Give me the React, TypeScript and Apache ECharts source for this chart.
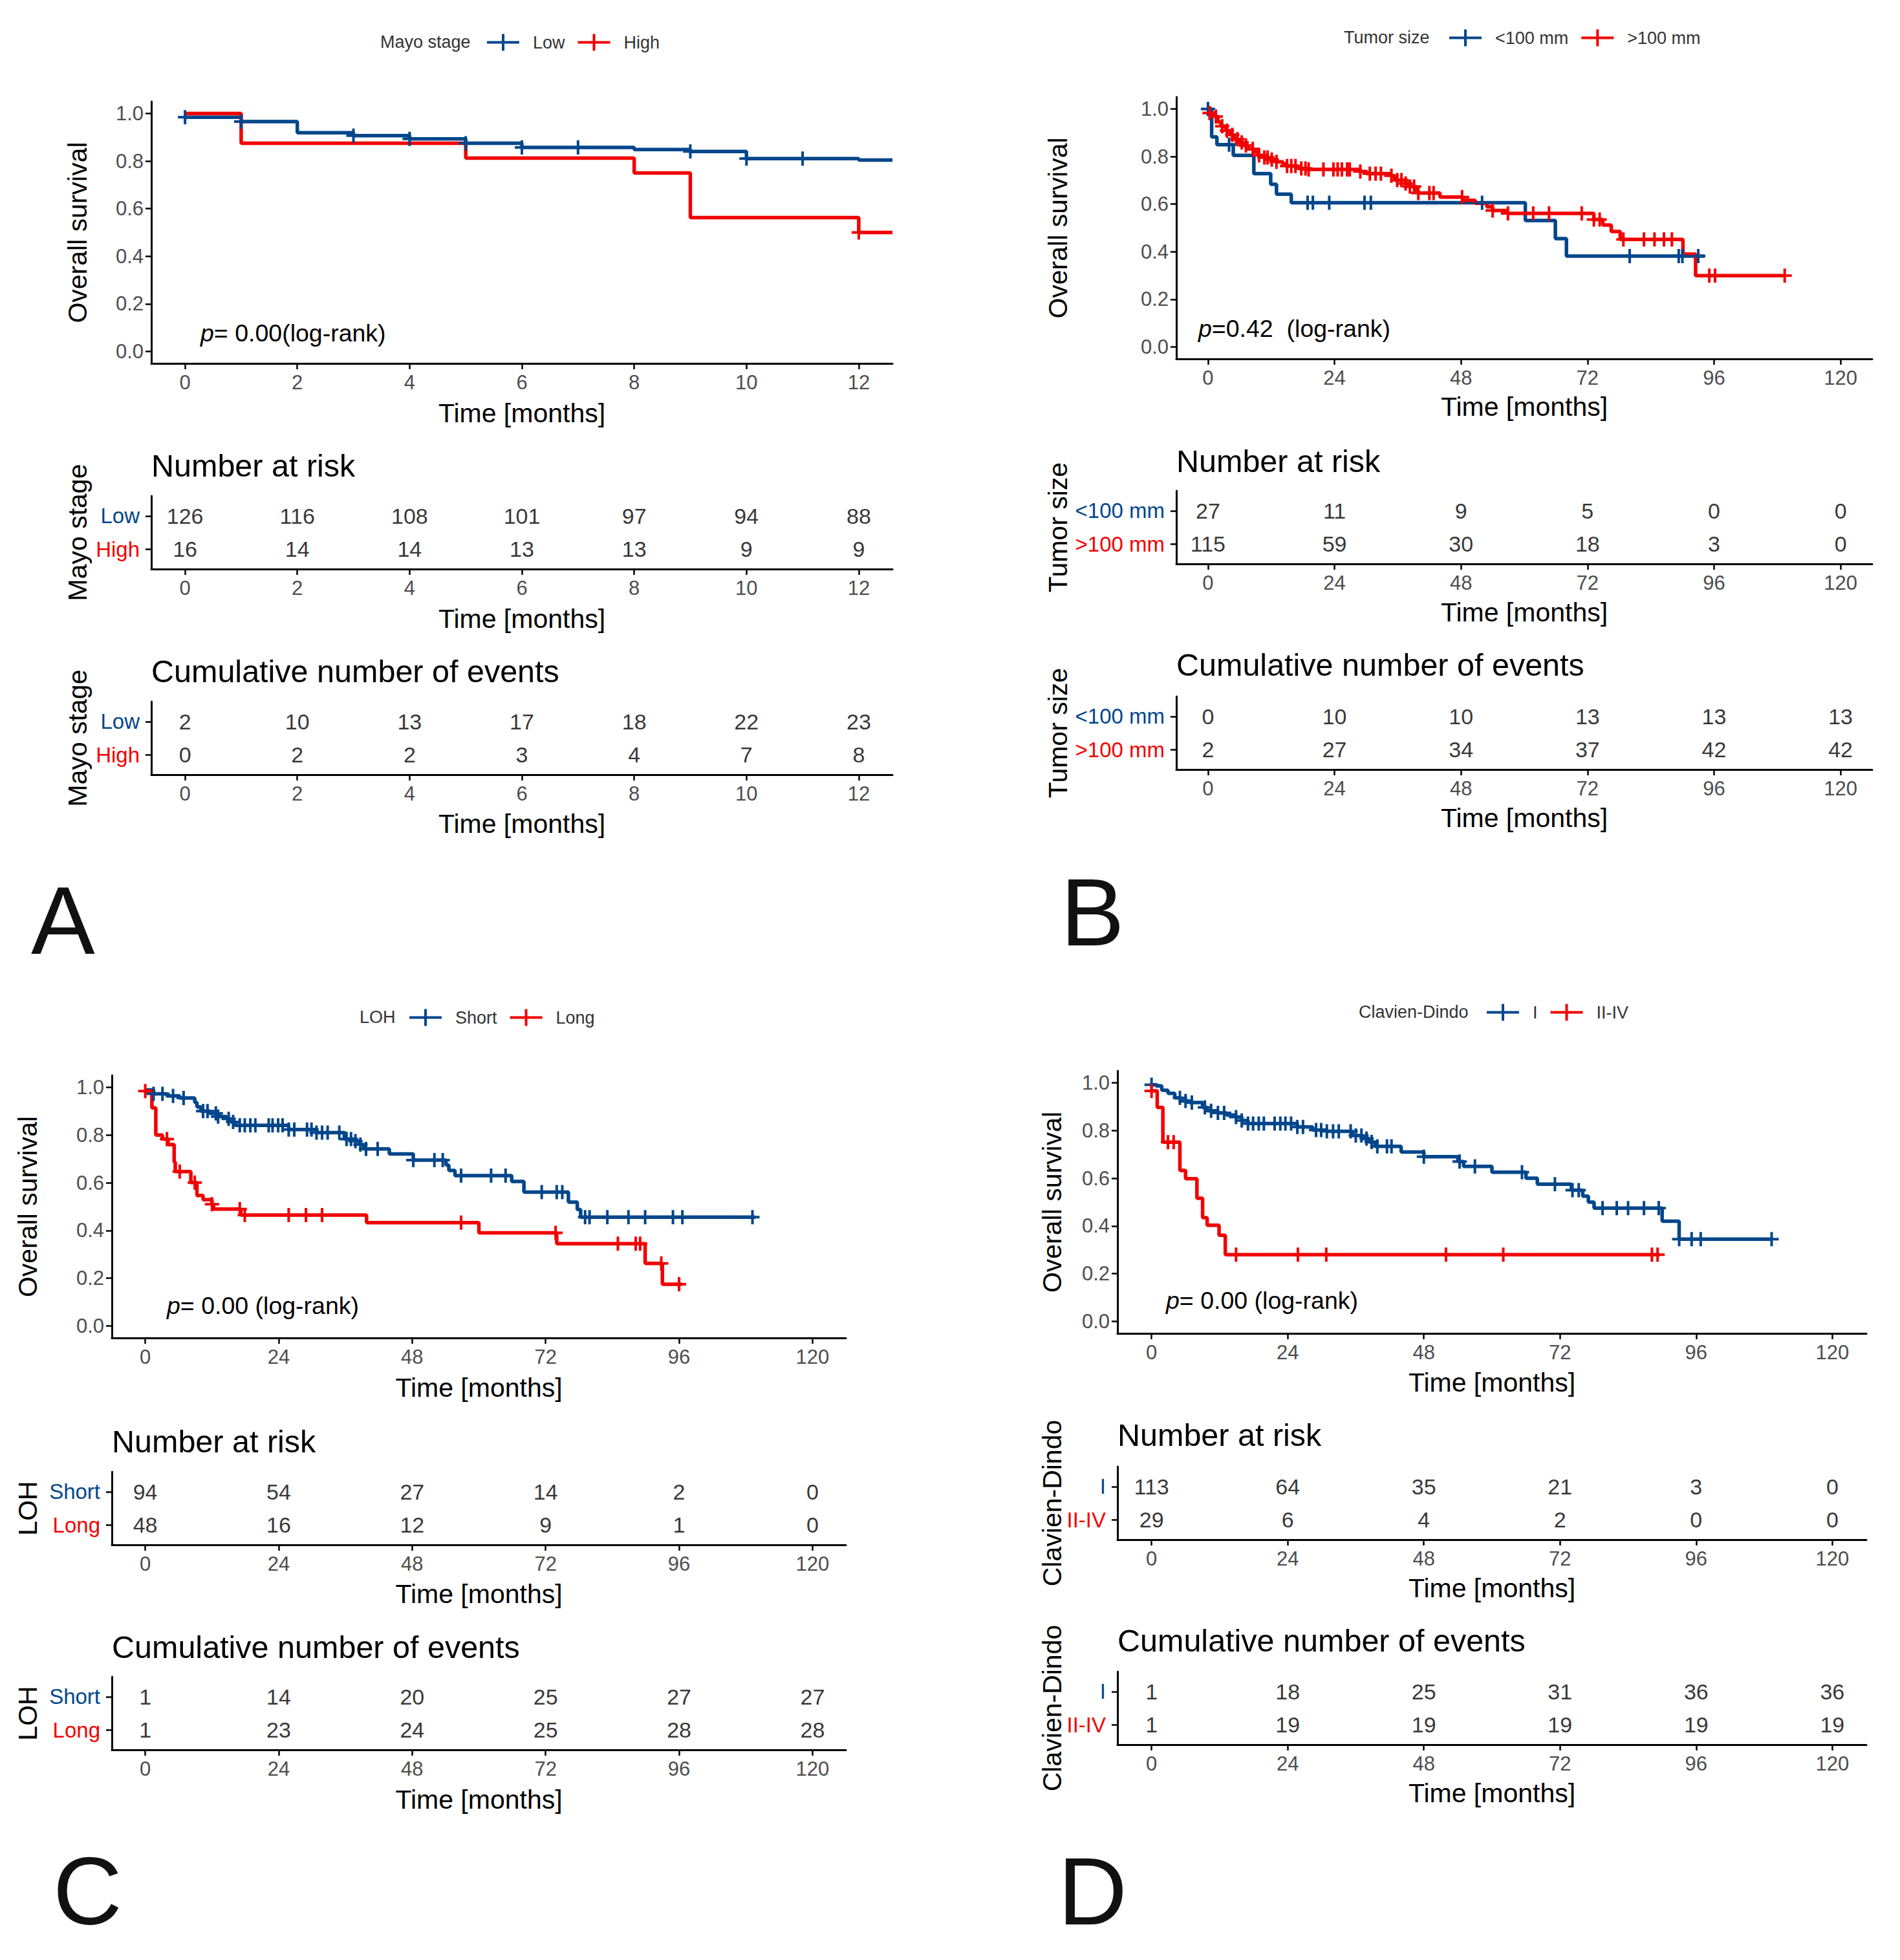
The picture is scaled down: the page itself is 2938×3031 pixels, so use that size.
import React, { useEffect, useRef } from "react";
import * as echarts from "echarts";

const BLUE = "#00468B";
const RED = "#F20000";
const FONT = "'Liberation Sans', Arial, Helvetica, sans-serif";
const GREY = "#4D4D4D";

// ---------------- Panel A : Mayo stage ----------------
const groupsA = ["Low", "High"];
const timesA = [0, 2, 4, 6, 8, 10, 12];
const riskA_low = [126, 116, 108, 101, 97, 94, 88];
const riskA_high = [16, 14, 14, 13, 13, 9, 9];
const cumA_low = [2, 10, 13, 17, 18, 22, 23];
const cumA_high = [0, 2, 2, 3, 4, 7, 8];
const kmA_low_t = [0, 1, 2, 3, 4, 5, 6, 8, 9, 10, 12, 12.6];
const kmA_low_s = [0.984, 0.966, 0.919, 0.907, 0.893, 0.875, 0.857, 0.848, 0.84, 0.81, 0.804, 0.804];
const censA_low = [0, 1, 3, 4, 5, 6, 7, 9, 10, 11];
const kmA_high_t = [0, 1, 5, 8, 9, 12, 12.6];
const kmA_high_s = [1, 0.875, 0.8125, 0.75, 0.5625, 0.5, 0.5];
const censA_high = [12];

// ---------------- Panel B : Tumor size ----------------
const groupsB = ["<100 mm", ">100 mm"];
const timesB = [0, 24, 48, 72, 96, 120];
const riskB_small = [27, 11, 9, 5, 0, 0];
const riskB_large = [115, 59, 30, 18, 3, 0];
const cumB_small = [0, 10, 10, 13, 13, 13];
const cumB_large = [2, 27, 34, 37, 42, 42];
const kmB_small_t = [0, 0.7, 1.7, 4.8, 8.7, 11.9, 13, 15.8, 60.2, 65.9, 68, 94.2];
const kmB_small_s = [1, 0.882, 0.85, 0.805, 0.728, 0.683, 0.642, 0.606, 0.531, 0.455, 0.382, 0.382];
const censB_small = [0, 4, 18.9, 19.9, 23, 29.7, 30.9, 52, 80, 89.3, 90, 93];
const kmB_large_t = [0, 1.3, 1.9, 2.5, 3.4, 4.2, 5, 5.8, 6.6, 7.6, 8.7, 9.5, 10.5, 11.7, 13, 14.2, 15, 17.1, 18.7, 28.9, 30.1, 34.6, 35.4, 37.5, 38.3, 39.5, 39.9, 44, 48.4, 50.7, 52.9, 54, 56.8, 73.2, 74.9, 76.5, 78.2, 90.1, 92.5, 109.4];
const kmB_large_s = [0.983, 0.968, 0.945, 0.927, 0.909, 0.891, 0.873, 0.859, 0.846, 0.832, 0.819, 0.805, 0.796, 0.787, 0.778, 0.769, 0.76, 0.75, 0.746, 0.737, 0.728, 0.719, 0.701, 0.687, 0.674, 0.656, 0.647, 0.63, 0.616, 0.604, 0.589, 0.573, 0.561, 0.535, 0.512, 0.485, 0.452, 0.39, 0.3, 0.3];
const censB_large = [0.3, 1.5, 2.7, 3.6, 4.6, 5.6, 6.4, 7.2, 8.5, 9.7, 10.7, 11.3, 12.1, 13, 15, 15.8, 16.6, 17.7, 18.5, 19.1, 21.9, 23.8, 24.6, 25.4, 26.4, 26.9, 28.9, 30.7, 31.8, 32.8, 34.8, 35.9, 36.7, 37.5, 38.3, 39.1, 39.9, 42, 42.8, 48.2, 54, 56.9, 61.7, 64.7, 70.9, 73.2, 74.3, 78.8, 82.7, 84.7, 86.5, 88, 95.1, 96.2, 109.4];

// ---------------- Panel C : LOH ----------------
const groupsC = ["Short", "Long"];
const timesC = [0, 24, 48, 72, 96, 120];
const riskC_short = [94, 54, 27, 14, 2, 0];
const riskC_long = [48, 16, 12, 9, 1, 0];
const cumC_short = [1, 14, 20, 25, 27, 27];
const cumC_long = [1, 23, 24, 25, 28, 28];
const kmC_short_t = [0, 1.5, 3.9, 6.2, 8.9, 9.3, 10, 11.6, 13.1, 14.6, 15.4, 16.2, 25.8, 30.8, 35.8, 37.8, 38.5, 39.3, 43.9, 48.2, 54.1, 54.6, 55.7, 65.9, 68.1, 76.1, 77.7, 78.3, 109.7];
const kmC_short_s = [0.989, 0.973, 0.964, 0.955, 0.937, 0.918, 0.9, 0.891, 0.877, 0.868, 0.855, 0.841, 0.823, 0.81, 0.783, 0.774, 0.76, 0.742, 0.721, 0.695, 0.674, 0.652, 0.63, 0.606, 0.561, 0.519, 0.488, 0.456, 0.456];
const censC_short = [1.5, 3.1, 5, 6.9, 10.4, 11.2, 12.7, 13.1, 15, 15.8, 17, 17.9, 18.9, 19.8, 22.2, 22.9, 23.9, 24.7, 25.8, 26.8, 29.1, 29.9, 30.8, 31.8, 32.8, 34.9, 36.2, 37, 37.8, 38.7, 39.7, 41.8, 48.2, 52, 53.5, 56.8, 62.2, 64.8, 71.3, 74, 75, 79.1, 79.9, 83.1, 86.9, 89.9, 94.9, 96.6, 109.2];
const kmC_long_t = [0, 1.2, 1.9, 3.1, 4.1, 5.2, 5.4, 8.2, 9.3, 10.4, 12, 12.3, 17.2, 39.8, 60, 74, 89.9, 93, 96.6];
const kmC_long_s = [0.984, 0.914, 0.8, 0.783, 0.76, 0.687, 0.647, 0.601, 0.547, 0.529, 0.51, 0.49, 0.465, 0.433, 0.39, 0.345, 0.262, 0.175, 0.175];
const censC_long = [0, 3.9, 6.2, 8.9, 12, 17, 17.9, 25.8, 28.9, 31.8, 56.8, 73.8, 85, 88.2, 89, 92.8, 96];

// ---------------- Panel D : Clavien-Dindo ----------------
const groupsD = ["I", "II-IV"];
const timesD = [0, 24, 48, 72, 96, 120];
const riskD_I = [113, 64, 35, 21, 3, 0];
const riskD_II = [29, 6, 4, 2, 0, 0];
const cumD_I = [1, 18, 25, 31, 36, 36];
const cumD_II = [1, 19, 19, 19, 19, 19];
const kmD_I_t = [0, 0.8, 1.8, 2.9, 4.1, 5.2, 6.7, 9, 9.8, 11.7, 13.2, 14.9, 15.9, 17, 25.7, 28.4, 30.7, 35.4, 37.1, 38.3, 39.4, 44, 48, 54, 55, 60, 66, 68, 74, 76, 77, 78, 90, 93, 109.3];
const kmD_I_s = [0.992, 0.987, 0.969, 0.956, 0.937, 0.924, 0.917, 0.897, 0.883, 0.874, 0.865, 0.856, 0.842, 0.829, 0.815, 0.802, 0.797, 0.779, 0.766, 0.752, 0.734, 0.71, 0.69, 0.67, 0.65, 0.625, 0.6, 0.575, 0.55, 0.525, 0.5, 0.475, 0.42, 0.345, 0.345];
const censD_I = [0, 5, 6, 7.1, 9.4, 10.5, 11.7, 12.8, 14.9, 15.9, 17, 17.9, 18.9, 19.8, 21.7, 22.7, 23.6, 24.6, 25.7, 26.7, 29, 29.9, 30.9, 32, 33, 35.1, 36, 37, 37.9, 38.8, 39.8, 41.5, 42.3, 48, 54.3, 57, 65.3, 71.1, 74.2, 75.3, 79.5, 82, 84, 86.8, 89.4, 93, 95.2, 96.8, 109.3];
const kmD_II_t = [0, 1, 2, 5, 6, 8, 9, 9.8, 11.9, 13, 89.6];
const kmD_II_s = [0.966, 0.897, 0.751, 0.633, 0.598, 0.516, 0.435, 0.403, 0.361, 0.28, 0.28];
const censD_II = [0, 2.9, 3.9, 14.9, 25.8, 30.8, 51.9, 62, 88.2, 89.2];

const kmYTicks = [0, 0.2, 0.4, 0.6, 0.8, 1.0];
const ticksMonths12 = [0, 2, 4, 6, 8, 10, 12];
const ticksMonths120 = [0, 24, 48, 72, 96, 120];

const panels = [
  {
    title: "Mayo stage", groups: groupsA, times: timesA, xTicks: ticksMonths12, xMin: -0.6, xMax: 12.6,
    risk: [riskA_low, riskA_high], cum: [cumA_low, cumA_high],
    km: [[kmA_low_t, kmA_low_s, censA_low], [kmA_high_t, kmA_high_s, censA_high]],
    pText: "{i|p}= 0.00(log-rank)", letter: "A",
    L: { kmL: 234, kmT: 157, kmW: 1146, kmH: 405, riskT: 767, cumT: 1085, ylabX: 120, legTitleX: 588, legY: 65, legX: 753, pX: 310, pY: 515, riskTitleY: 720, cumTitleY: 1038, letterX: 48, letterY: 1423, kmXT: 639, riskXT: 957, cumXT: 1274 },
  },
  {
    title: "Tumor size", groups: groupsB, times: timesB, xTicks: ticksMonths120, xMin: -6, xMax: 126,
    risk: [riskB_small, riskB_large], cum: [cumB_small, cumB_large],
    km: [[kmB_small_t, kmB_small_s, censB_small], [kmB_large_t, kmB_large_s, censB_large]],
    pText: "{i|p}=0.42  (log-rank)", letter: "B",
    L: { kmL: 1819, kmT: 150, kmW: 1076, kmH: 405, riskT: 759, cumT: 1077, ylabX: 1636, legTitleX: 2078, legY: 58, legX: 2241, pX: 1853, pY: 508, riskTitleY: 713, cumTitleY: 1028, letterX: 1640, letterY: 1410, kmXT: 629, riskXT: 947, cumXT: 1265 },
  },
  {
    title: "LOH", groups: groupsC, times: timesC, xTicks: ticksMonths120, xMin: -6, xMax: 126,
    risk: [riskC_short, riskC_long], cum: [cumC_short, cumC_long],
    km: [[kmC_short_t, kmC_short_s, censC_short], [kmC_long_t, kmC_long_s, censC_long]],
    pText: "{i|p}= 0.00 (log-rank)", letter: "C",
    L: { kmL: 173, kmT: 1663, kmW: 1135, kmH: 406, riskT: 2276, cumT: 2593, ylabX: 43, legTitleX: 556, legY: 1573, legX: 633, pX: 258, pY: 2019, riskTitleY: 2229, cumTitleY: 2547, letterX: 82, letterY: 2924, kmXT: 2146, riskXT: 2465, cumXT: 2783 },
  },
  {
    title: "Clavien-Dindo", groups: groupsD, times: timesD, xTicks: ticksMonths120, xMin: -6, xMax: 126,
    risk: [riskD_I, riskD_II], cum: [cumD_I, cumD_II],
    km: [[kmD_I_t, kmD_I_s, censD_I], [kmD_II_t, kmD_II_s, censD_II]],
    pText: "{i|p}= 0.00 (log-rank)", letter: "D",
    L: { kmL: 1728, kmT: 1656, kmW: 1158, kmH: 406, riskT: 2268, cumT: 2585, ylabX: 1627, legTitleX: 2101, legY: 1565, legX: 2299, pX: 1803, pY: 2011, riskTitleY: 2219, cumTitleY: 2537, letterX: 1636, letterY: 2924, kmXT: 2138, riskXT: 2456, cumXT: 2773 },
  },
];

const TAB_H = 113;
const COLORS = [BLUE, RED];
const plusIcon = "path://M0,11H50V15H0Z M23,0H27V26H23Z";
const censorSym = "path://M-2,-11H2V11H-2Z M-11,-2H11V2H-11Z";

function survAt(ts: number[], ss: number[], t: number) {
  let v = ss[0];
  for (let i = 0; i < ts.length; i++) {
    if (ts[i] <= t + 1e-9) v = ss[i];
    else break;
  }
  return v;
}

function txt(x: number, y: number, text: string, fontSize: number, opts: any = {}) {
  return {
    type: "text",
    x,
    y,
    rotation: opts.rot || 0,
    silent: true,
    style: {
      text,
      fontSize,
      fontFamily: FONT,
      fill: opts.fill || "#000",
      align: opts.align || "left",
      verticalAlign: "middle",
      textAlign: opts.align || "left",
      textVerticalAlign: "middle",
      rich: opts.rich,
    },
  };
}

function buildOption() {
  const grid: any[] = [];
  const xAxis: any[] = [];
  const yAxis: any[] = [];
  const series: any[] = [];
  const graphic: any[] = [];
  const legend: any[] = [];

  const axisLine = { show: true, onZero: false, lineStyle: { color: "#000", width: 3 } };
  const tickStyle = { color: "#000", width: 2.5 };

  panels.forEach((p, pi) => {
    const L = p.L;
    const tops = [L.kmT, L.riskT, L.cumT];
    const heights = [L.kmH, TAB_H, TAB_H];
    for (let k = 0; k < 3; k++) {
      const gi = pi * 3 + k;
      grid.push({ left: L.kmL, top: tops[k], width: L.kmW, height: heights[k], containLabel: false, outerBoundsMode: "none" });
      xAxis.push({
        type: "value", gridIndex: gi, min: p.xMin, max: p.xMax,
        axisLine, splitLine: { show: false },
        axisTick: { show: true, length: 9, lineStyle: tickStyle, customValues: p.xTicks },
        axisLabel: { customValues: p.xTicks, color: GREY, fontSize: 31, fontFamily: FONT, margin: 14 },
      });
      if (k === 0) {
        yAxis.push({
          type: "value", gridIndex: gi, min: -0.05, max: 1.05,
          axisLine, splitLine: { show: false },
          axisTick: { show: true, length: 9, lineStyle: tickStyle, customValues: kmYTicks },
          axisLabel: { customValues: kmYTicks, color: GREY, fontSize: 31, fontFamily: FONT, margin: 12, formatter: (v: number) => v.toFixed(1) },
        });
      } else {
        yAxis.push({
          type: "value", gridIndex: gi, min: 0.4, max: 2.6,
          axisLine, splitLine: { show: false },
          axisTick: { show: true, length: 9, lineStyle: tickStyle, customValues: [1, 2] },
          axisLabel: {
            customValues: [1, 2], margin: 18, fontSize: 33, fontFamily: FONT,
            formatter: (v: number) => (v > 1.5 ? `{g0|${p.groups[0]}}` : `{g1|${p.groups[1]}}`),
            rich: {
              g0: { color: BLUE, fontSize: 33, fontFamily: FONT },
              g1: { color: RED, fontSize: 33, fontFamily: FONT },
            },
          },
        });
      }
    }
    const kmIdx = pi * 3;
    // KM lines
    p.km.forEach((g, gi) => {
      const [ts, ss] = g as number[][];
      series.push({
        type: "line", name: p.groups[gi], xAxisIndex: kmIdx, yAxisIndex: kmIdx,
        step: "end", symbol: "none", showSymbol: false, clip: true, z: 2 + gi,
        data: ts.map((t, i) => [t, ss[i]]),
        lineStyle: { color: COLORS[gi], width: 5.5 }, itemStyle: { color: COLORS[gi] },
      });
    });
    // Censor marks
    p.km.forEach((g, gi) => {
      const [ts, ss, cs] = g as number[][];
      series.push({
        type: "scatter", name: p.groups[gi], xAxisIndex: kmIdx, yAxisIndex: kmIdx,
        symbol: censorSym, symbolSize: 22, silent: true, z: 5 + gi,
        data: cs.map((t) => [t, survAt(ts, ss, t)]),
        itemStyle: { color: COLORS[gi], opacity: 1 },
      });
    });
    // Tables
    const tables = [p.risk, p.cum];
    tables.forEach((tab, ti) => {
      const idx = pi * 3 + 1 + ti;
      const data: any[] = [];
      tab.forEach((row, ri) => {
        row.forEach((n, i) => data.push([p.times[i], ri === 0 ? 2 : 1, n]));
      });
      series.push({
        type: "scatter", xAxisIndex: idx, yAxisIndex: idx, symbolSize: 1, silent: true,
        itemStyle: { color: "rgba(0,0,0,0)" },
        data,
        label: { show: true, position: "inside", formatter: (q: any) => String(q.value[2]), fontSize: 34, color: "#000", fontFamily: FONT },
      });
    });

    // Legend
    legend.push({
      left: L.legX, top: L.legY - 13, orient: "horizontal", itemWidth: 50, itemHeight: 26, itemGap: 20, padding: 0,
      selectedMode: false,
      data: p.groups.map((n) => ({ name: n, icon: plusIcon })),
      textStyle: { fontSize: 27, color: "#333", fontFamily: FONT, padding: [0, 0, 0, 16] },
    });

    // Texts
    const cx = L.kmL + L.kmW / 2;
    graphic.push(txt(L.legTitleX, L.legY, p.title, 27, { fill: "#333" }));
    graphic.push(txt(L.ylabX, L.kmT + L.kmH / 2, "Overall survival", 41, { rot: Math.PI / 2, align: "center" }));
    graphic.push(txt(L.ylabX, L.riskT + TAB_H / 2, p.title, 41, { rot: Math.PI / 2, align: "center" }));
    graphic.push(txt(L.ylabX, L.cumT + TAB_H / 2, p.title, 41, { rot: Math.PI / 2, align: "center" }));
    graphic.push(txt(cx, L.kmXT, "Time [months]", 41, { align: "center" }));
    graphic.push(txt(cx, L.riskXT, "Time [months]", 41, { align: "center" }));
    graphic.push(txt(cx, L.cumXT, "Time [months]", 41, { align: "center" }));
    graphic.push(txt(L.kmL, L.riskTitleY, "Number at risk", 48.5));
    graphic.push(txt(L.kmL, L.cumTitleY, "Cumulative number of events", 48.5));
    graphic.push(txt(L.pX, L.pY, p.pText, 37.5, { rich: { i: { fontStyle: "italic", fontSize: 37.5, fontFamily: FONT, fill: "#000" } } }));
    graphic.push(txt(L.letterX, L.letterY, p.letter, 148, { fill: "#111" }));
  });

  return {
    animation: false,
    backgroundColor: "#fff",
    textStyle: { fontFamily: FONT },
    grid, xAxis, yAxis, series, legend,
    graphic: { elements: graphic },
  };
}

export default function App() {
  const ref = useRef<HTMLDivElement>(null);
  useEffect(() => {
    if (!ref.current) return;
    const chart = echarts.init(ref.current, undefined, { renderer: "svg" });
    chart.setOption(buildOption() as any);
    return () => chart.dispose();
  }, []);
  return <div ref={ref} style={{ position: "absolute", left: 0, top: 0, width: 2938, height: 3031, background: "#fff" }} />;
}
